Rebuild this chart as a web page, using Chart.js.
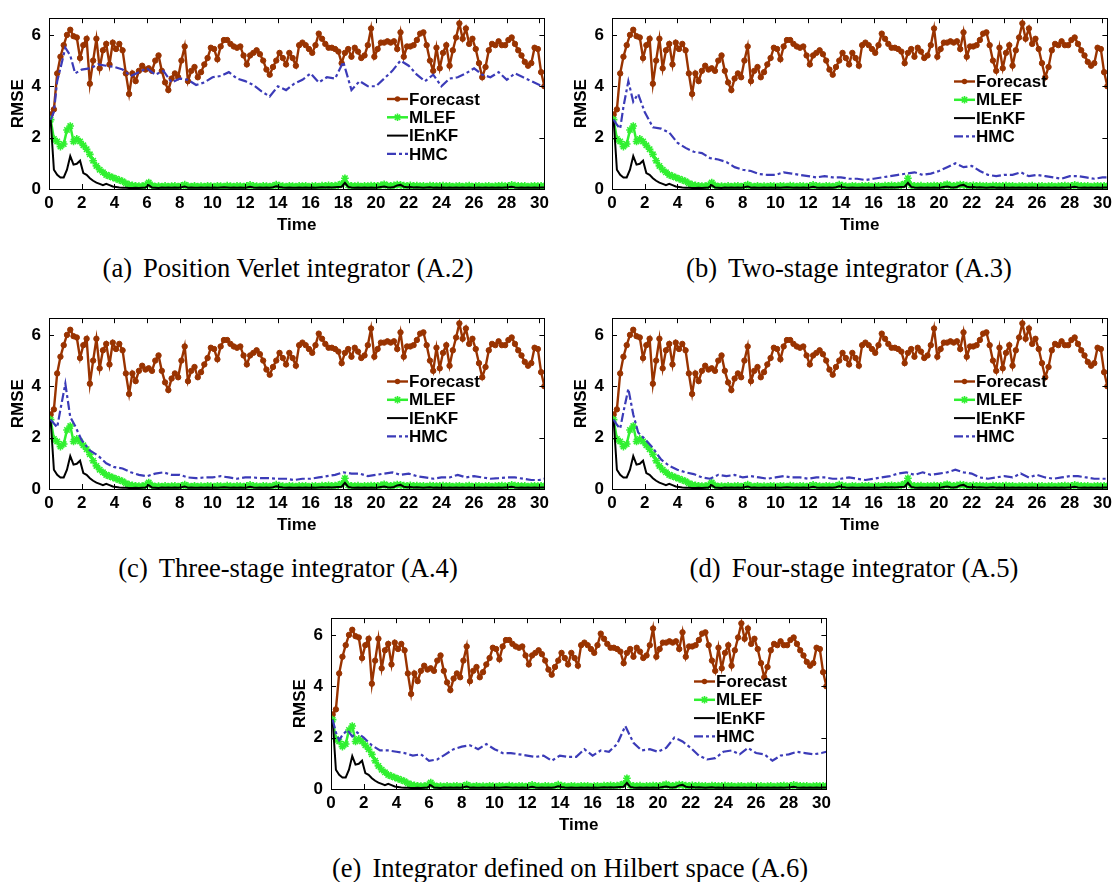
<!DOCTYPE html>
<html lang="en">
<head>
  <meta charset="UTF-8" />
  <title>RMSE of Forecast, MLEF, IEnKF and HMC</title>
  <script src="https://cdn.jsdelivr.net/npm/chart.js"></script>
  <style>
    body {
      margin: 0;
      background: #ffffff;
      width: 1117px;
      height: 882px;
      position: relative;
      overflow: hidden;
    }

    .panel {
      position: absolute;
    }

    .panel canvas {
      display: block;
    }

    .caption {
      position: absolute;
      font-family: 'Liberation Serif', 'Times New Roman', serif;
      font-size: 26.6px;
      line-height: 30px;
      color: #000;
      white-space: nowrap;
      transform: translateX(-50%);
    }

    .caption .tag {
      margin-right: 11px;
    }
  </style>
</head>
<body>
  <div class="panel" style="left:0px;top:0px"><canvas id="chartA" width="553" height="235"></canvas></div>
  <div class="panel" style="left:563px;top:0px"><canvas id="chartB" width="553" height="235"></canvas></div>
  <div class="panel" style="left:0px;top:300px"><canvas id="chartC" width="553" height="235"></canvas></div>
  <div class="panel" style="left:563px;top:300px"><canvas id="chartD" width="553" height="235"></canvas></div>
  <div class="panel" style="left:282px;top:600px"><canvas id="chartE" width="553" height="235"></canvas></div>

  <div class="caption" style="left:288px;top:253px"><span class="tag">(a)</span>Position Verlet integrator (A.2)</div>
  <div class="caption" style="left:849px;top:253px"><span class="tag">(b)</span>Two-stage integrator (A.3)</div>
  <div class="caption" style="left:288px;top:553px"><span class="tag">(c)</span>Three-stage integrator (A.4)</div>
  <div class="caption" style="left:854px;top:553px"><span class="tag">(d)</span>Four-stage integrator (A.5)</div>
  <div class="caption" style="left:570px;top:853px"><span class="tag">(e)</span>Integrator defined on Hilbert space (A.6)</div>

  <script>
    // time grid shared by forecast, MLEF and IEnKF
    const TIME = [
      0.1, 0.3, 0.5, 0.7, 0.9, 1.1, 1.3, 1.5, 1.7, 1.9,
      2.1, 2.3, 2.5, 2.7, 2.9, 3.1, 3.3, 3.5, 3.7, 3.9,
      4.1, 4.3, 4.5, 4.7, 4.9, 5.1, 5.3, 5.5, 5.7, 5.9,
      6.1, 6.3, 6.5, 6.7, 6.9, 7.1, 7.3, 7.5, 7.7, 7.9,
      8.1, 8.3, 8.5, 8.7, 8.9, 9.1, 9.3, 9.5, 9.7, 9.9,
      10.1, 10.3, 10.5, 10.7, 10.9, 11.1, 11.3, 11.5, 11.7, 11.9,
      12.1, 12.3, 12.5, 12.7, 12.9, 13.1, 13.3, 13.5, 13.7, 13.9,
      14.1, 14.3, 14.5, 14.7, 14.9, 15.1, 15.3, 15.5, 15.7, 15.9,
      16.1, 16.3, 16.5, 16.7, 16.9, 17.1, 17.3, 17.5, 17.7, 17.9,
      18.1, 18.3, 18.5, 18.7, 18.9, 19.1, 19.3, 19.5, 19.7, 19.9,
      20.1, 20.3, 20.5, 20.7, 20.9, 21.1, 21.3, 21.5, 21.7, 21.9,
      22.1, 22.3, 22.5, 22.7, 22.9, 23.1, 23.3, 23.5, 23.7, 23.9,
      24.1, 24.3, 24.5, 24.7, 24.9, 25.1, 25.3, 25.5, 25.7, 25.9,
      26.1, 26.3, 26.5, 26.7, 26.9, 27.1, 27.3, 27.5, 27.7, 27.9,
      28.1, 28.3, 28.5, 28.7, 28.9, 29.1, 29.3, 29.5, 29.7, 29.9,
      30.1, 30.3
    ];

    const FORECAST = [
      2.9, 3.1, 4.5, 5.15, 5.6, 6.0, 6.2, 5.95, 5.9, 5.1,
      5.6, 5.85, 4.1, 5.0, 5.85, 4.7, 5.4, 5.65, 4.85, 5.7,
      5.45, 5.65, 5.4, 4.5, 3.7, 4.5, 4.2, 4.6, 4.8, 4.65,
      4.7, 4.6, 5.0, 5.2, 4.6, 4.15, 3.85, 4.3, 4.5, 4.35,
      5.0, 5.55, 4.2, 4.6, 4.75, 4.35, 4.55, 4.85, 5.1, 5.5,
      5.45, 5.05, 5.55, 5.8, 5.8, 5.65, 5.55, 5.5, 5.55, 5.2,
      4.85, 5.2, 5.3, 5.4, 5.25, 5.0, 4.65, 4.45, 4.75, 5.0,
      5.3, 5.1, 4.85, 5.3, 5.1, 4.8, 5.6, 5.7, 5.6, 5.45,
      5.3, 5.6, 6.05, 5.85, 5.65, 5.5, 5.5, 5.45, 5.35, 4.9,
      5.3, 5.45, 5.15, 5.5, 5.35, 5.1, 5.2, 5.6, 6.25, 5.15,
      5.45, 5.7, 5.7, 5.75, 5.7, 5.75, 5.45, 6.1, 5.15, 5.55,
      5.55, 5.6, 5.8, 6.05, 6.1, 5.6, 5.0, 4.6, 5.5, 4.7,
      5.3, 5.6, 4.8, 5.4, 5.9, 6.45, 5.85, 6.25, 5.65, 5.85,
      5.45, 4.9, 4.35, 4.75, 5.4, 5.65, 5.6, 5.75, 5.6, 5.6,
      5.8, 5.9, 5.65, 5.4, 5.2, 4.95, 4.8, 4.9, 5.5, 5.45,
      4.55, 4.0
    ];

    const MLEF = [
      2.7, 1.95, 1.85, 1.65, 1.75, 2.3, 2.45, 1.85, 1.95, 1.85,
      1.7, 1.55, 1.35, 1.1, 0.9, 0.75, 0.65, 0.55, 0.5, 0.45,
      0.4, 0.35, 0.3, 0.22, 0.17, 0.14, 0.12, 0.11, 0.11, 0.15,
      0.25, 0.14, 0.1, 0.11, 0.1, 0.12, 0.1, 0.11, 0.12, 0.1,
      0.12, 0.17, 0.11, 0.1, 0.12, 0.1, 0.11, 0.1, 0.12, 0.11,
      0.1, 0.12, 0.11, 0.1, 0.13, 0.11, 0.1, 0.12, 0.11, 0.1,
      0.12, 0.16, 0.12, 0.11, 0.1, 0.12, 0.11, 0.1, 0.12, 0.17,
      0.13, 0.11, 0.1, 0.12, 0.11, 0.1, 0.12, 0.11, 0.12, 0.1,
      0.11, 0.12, 0.1, 0.13, 0.12, 0.14, 0.12, 0.13, 0.15, 0.2,
      0.42, 0.15, 0.12, 0.11, 0.13, 0.1, 0.12, 0.11, 0.13, 0.12,
      0.12, 0.14, 0.18, 0.13, 0.12, 0.14, 0.17, 0.16, 0.13, 0.12,
      0.14, 0.12, 0.13, 0.11, 0.12, 0.1, 0.13, 0.12, 0.11, 0.12,
      0.13, 0.11, 0.12, 0.1, 0.11, 0.12, 0.1, 0.11, 0.13, 0.1,
      0.11, 0.12, 0.1, 0.11, 0.12, 0.1, 0.11, 0.12, 0.13, 0.11,
      0.12, 0.16, 0.13, 0.12, 0.11, 0.12, 0.1, 0.11, 0.12, 0.11,
      0.12, 0.11
    ];

    const IENKF = [
      2.7, 0.75, 0.55, 0.45, 0.45, 0.75, 1.28, 0.95, 0.98, 1.1,
      0.62, 0.55, 0.42, 0.32, 0.25, 0.2, 0.15, 0.2, 0.15, 0.1,
      0.08, 0.06, 0.05, 0.05, 0.04, 0.04, 0.05, 0.04, 0.05, 0.06,
      0.15, 0.06, 0.05, 0.04, 0.06, 0.05, 0.06, 0.05, 0.06, 0.05,
      0.07, 0.1, 0.05, 0.06, 0.05, 0.05, 0.06, 0.05, 0.06, 0.05,
      0.06, 0.05, 0.06, 0.07, 0.06, 0.05, 0.06, 0.05, 0.06, 0.05,
      0.06, 0.09, 0.06, 0.05, 0.06, 0.05, 0.06, 0.05, 0.07, 0.11,
      0.08, 0.06, 0.05, 0.06, 0.05, 0.05, 0.06, 0.05, 0.06, 0.05,
      0.06, 0.05, 0.06, 0.07, 0.06, 0.07, 0.06, 0.07, 0.08, 0.09,
      0.24, 0.08, 0.06, 0.05, 0.06, 0.05, 0.06, 0.05, 0.06, 0.05,
      0.06, 0.08, 0.1, 0.07, 0.06, 0.08, 0.14, 0.16, 0.09, 0.07,
      0.08, 0.06, 0.07, 0.06, 0.05, 0.06, 0.07, 0.05, 0.06, 0.05,
      0.06, 0.05, 0.06, 0.05, 0.06, 0.05, 0.06, 0.05, 0.06, 0.05,
      0.05, 0.06, 0.05, 0.06, 0.05, 0.06, 0.05, 0.06, 0.05, 0.06,
      0.07, 0.09, 0.06, 0.05, 0.06, 0.05, 0.06, 0.05, 0.06, 0.05,
      0.06, 0.06
    ];

    // HMC runs are stored on a coarser grid
    const HMC_TIME = [
      0.1, 0.3, 0.5, 0.7, 1.0, 1.3, 1.6, 2.0,
      2.5, 3.0, 3.5, 4.0, 4.5, 5.0, 5.5, 6.0, 6.5, 7.0,
      7.5, 8.0, 8.5, 9.0, 9.5, 10.0, 10.5, 11.0, 11.5, 12.0,
      12.5, 13.0, 13.5, 14.0, 14.5, 15.0, 15.5, 16.0, 16.5, 17.0,
      17.5, 18.0, 18.5, 19.0, 19.5, 20.0, 20.5, 21.0, 21.5, 22.0,
      22.5, 23.0, 23.5, 24.0, 24.5, 25.0, 25.5, 26.0, 26.5, 27.0,
      27.5, 28.0, 28.5, 29.0, 29.5, 30.0, 30.3
    ];

    // position Verlet (A.2)
    const HMC_A = [
      2.7, 3.0, 4.2, 4.7, 5.5, 5.2, 4.5, 4.65,
      4.7, 4.85, 4.8, 4.75, 4.65, 4.4, 4.55, 4.7, 4.45, 4.6,
      4.15, 4.3, 4.25, 4.05, 4.15, 4.35, 4.4, 4.55, 4.3, 4.2,
      4.05, 3.8, 3.6, 4.0, 3.85, 4.1, 4.25, 4.5, 4.15, 4.35,
      4.3, 4.95, 3.85, 4.2, 4.0, 4.0, 4.3, 4.6, 5.0, 4.8,
      4.45, 4.2, 4.45, 4.0, 4.3, 4.35, 4.5, 4.7, 4.45, 4.35,
      4.55, 4.25, 4.5, 4.35, 4.2, 4.05, 4.0
    ];

    // two-stage (A.3)
    const HMC_B = [
      2.7, 2.5, 2.35, 3.2, 4.2, 3.4, 3.7, 3.0,
      2.4, 2.35, 2.2, 1.8, 1.6, 1.45, 1.4, 1.2, 1.15, 1.05,
      0.85, 0.75, 0.7, 0.58, 0.55, 0.55, 0.65, 0.6, 0.55, 0.5,
      0.45, 0.5, 0.45, 0.45, 0.4, 0.4, 0.35, 0.4, 0.45, 0.5,
      0.55, 0.6, 0.65, 0.55, 0.6, 0.7, 0.85, 1.0, 0.85, 0.9,
      0.7, 0.55, 0.5, 0.55, 0.55, 0.65, 0.5, 0.55, 0.5, 0.45,
      0.4, 0.5, 0.5, 0.45, 0.4, 0.45, 0.45
    ];

    // three-stage (A.4)
    const HMC_C = [
      2.7, 2.55, 2.4, 3.1, 4.1, 2.8, 2.45, 1.9,
      1.5, 1.3, 1.0, 0.85, 0.8, 0.65, 0.55, 0.5, 0.6, 0.65,
      0.55, 0.55, 0.45, 0.42, 0.45, 0.45, 0.5, 0.45, 0.4, 0.45,
      0.45, 0.42, 0.42, 0.4, 0.4, 0.35, 0.4, 0.4, 0.45, 0.5,
      0.55, 0.65, 0.6, 0.6, 0.5, 0.55, 0.6, 0.65, 0.55, 0.6,
      0.5, 0.45, 0.4, 0.45, 0.45, 0.55, 0.45, 0.5, 0.45, 0.4,
      0.42, 0.45, 0.45, 0.4, 0.35, 0.35, 0.4
    ];

    // four-stage (A.5)
    const HMC_D = [
      2.7, 2.5, 2.35, 3.0, 3.9, 2.9, 2.2, 1.95,
      1.6, 1.15, 0.9, 0.75, 0.65, 0.58, 0.45, 0.4, 0.55, 0.5,
      0.55, 0.45, 0.5, 0.45, 0.4, 0.45, 0.5, 0.45, 0.45, 0.4,
      0.45, 0.45, 0.4, 0.4, 0.45, 0.4, 0.35, 0.4, 0.45, 0.5,
      0.6, 0.65, 0.55, 0.65, 0.55, 0.6, 0.65, 0.75, 0.65, 0.6,
      0.45, 0.4, 0.45, 0.5, 0.45, 0.6, 0.45, 0.55, 0.45, 0.4,
      0.45, 0.5, 0.5, 0.45, 0.4, 0.4, 0.4
    ];

    // Hilbert space integrator (A.6)
    const HMC_E = [
      2.7, 2.2, 1.9, 2.1, 2.3, 2.05, 2.2, 2.0,
      1.7, 1.5, 1.5, 1.45, 1.4, 1.3, 1.35, 1.1, 1.15, 1.35,
      1.55, 1.65, 1.7, 1.55, 1.75, 1.55, 1.4, 1.4, 1.35, 1.3,
      1.25, 1.3, 1.1, 1.3, 1.25, 1.25, 1.55, 1.3, 1.5, 1.45,
      1.75, 2.45, 1.8, 1.5, 1.55, 1.45, 1.6, 2.0, 1.85, 1.6,
      1.3, 1.15, 1.2, 1.45, 1.5, 1.35, 1.6, 1.4, 1.35, 1.1,
      1.3, 1.35, 1.45, 1.4, 1.35, 1.4, 1.45
    ];

    const X_TICKS = [0, 2, 4, 6, 8, 10, 12, 14, 16, 18, 20, 22, 24, 26, 28, 30];
    const Y_TICKS = [0, 2, 4, 6];

    const FONT = '"Liberation Sans", Arial, Helvetica, sans-serif';
    const BROWN = '#993300';
    const GREEN = '#30f030';
    const BLUE = '#3b3bb8';

    function toPoints(xs, ys) {
      return xs.map((x, i) => ({ x: x, y: ys[i] }));
    }

    function drawMarker(ctx, style, x, y, r, color) {
      ctx.save();
      ctx.strokeStyle = color;
      ctx.fillStyle = color;
      if (style === 'circle') {
        ctx.beginPath();
        ctx.arc(x, y, r, 0, Math.PI * 2);
        ctx.fill();
      } else {
        const d = r * Math.SQRT1_2;
        ctx.lineWidth = 1.6;
        ctx.beginPath();
        ctx.moveTo(x - r, y); ctx.lineTo(x + r, y);
        ctx.moveTo(x, y - r); ctx.lineTo(x, y + r);
        ctx.moveTo(x - d, y - d); ctx.lineTo(x + d, y + d);
        ctx.moveTo(x - d, y + d); ctx.lineTo(x + d, y - d);
        ctx.stroke();
      }
      ctx.restore();
    }

    // axes box with short inward ticks on all four sides
    const boxAxes = {
      id: 'boxAxes',
      afterDatasetsDraw(chart) {
        const { ctx, chartArea: a, scales } = chart;
        const len = 5;
        ctx.save();
        ctx.strokeStyle = '#000';
        ctx.lineWidth = 1;
        ctx.strokeRect(Math.round(a.left) + 0.5, Math.round(a.top) + 0.5,
          Math.round(a.right - a.left), Math.round(a.bottom - a.top));
        ctx.beginPath();
        X_TICKS.forEach(v => {
          const px = Math.round(scales.x.getPixelForValue(v)) + 0.5;
          if (px < a.left || px > a.right) return;
          ctx.moveTo(px, a.bottom); ctx.lineTo(px, a.bottom - len);
          ctx.moveTo(px, a.top); ctx.lineTo(px, a.top + len);
        });
        Y_TICKS.forEach(v => {
          const py = Math.round(scales.y.getPixelForValue(v)) + 0.5;
          ctx.moveTo(a.left, py); ctx.lineTo(a.left + len, py);
          ctx.moveTo(a.right, py); ctx.lineTo(a.right - len, py);
        });
        ctx.stroke();
        ctx.restore();
      }
    };

    // legend drawn inside the plot area, no frame
    const insetLegend = {
      id: 'insetLegend',
      afterDraw(chart, args, opts) {
        const { ctx, chartArea } = chart;
        const x0 = chartArea.left + opts.x;
        ctx.save();
        ctx.font = 'bold 17px ' + FONT;
        ctx.textBaseline = 'middle';
        chart.data.datasets.forEach((ds, i) => {
          const y = opts.y + i * opts.rowGap;
          ctx.strokeStyle = ds.borderColor;
          ctx.lineWidth = ds.borderWidth;
          ctx.setLineDash(ds.borderDash || []);
          ctx.beginPath();
          ctx.moveTo(x0, y);
          ctx.lineTo(x0 + 21, y);
          ctx.stroke();
          ctx.setLineDash([]);
          if (ds.pointRadius > 0) {
            drawMarker(ctx, ds.pointStyle, x0 + 10.5, y, ds.pointRadius, ds.borderColor);
          }
          ctx.fillStyle = '#000';
          ctx.fillText(ds.label, x0 + 22, y + 1);
        });
        ctx.restore();
      }
    };

    function makeChart(id, hmc, legendPos) {
      const ctx = document.getElementById(id).getContext('2d');
      return new Chart(ctx, {
        type: 'line',
        data: {
          datasets: [
            {
              label: 'Forecast',
              data: toPoints(TIME, FORECAST),
              borderColor: BROWN,
              backgroundColor: BROWN,
              borderWidth: 2.4,
              pointStyle: 'circle',
              pointRadius: 2.7,
              pointBorderWidth: 1,
              pointBackgroundColor: BROWN,
              order: 4
            },
            {
              label: 'MLEF',
              data: toPoints(TIME, MLEF),
              borderColor: GREEN,
              backgroundColor: GREEN,
              borderWidth: 2.5,
              pointStyle: 'star',
              pointRadius: 3.8,
              pointBorderWidth: 1.6,
              order: 3
            },
            {
              label: 'IEnKF',
              data: toPoints(TIME, IENKF),
              borderColor: '#000000',
              borderWidth: 2,
              pointRadius: 0,
              order: 2
            },
            {
              label: 'HMC',
              data: toPoints(HMC_TIME, hmc),
              borderColor: BLUE,
              borderWidth: 2.2,
              borderDash: [9, 3, 3, 3],
              pointRadius: 0,
              order: 1
            }
          ]
        },
        options: {
          responsive: false,
          animation: false,
          layout: { padding: { top: 10, right: 7, left: 0, bottom: 0 } },
          elements: { line: { tension: 0 } },
          scales: {
            x: {
              type: 'linear',
              min: 0,
              max: 30.3,
              afterBuildTicks: s => { s.ticks = X_TICKS.map(v => ({ value: v })); },
              afterFit: s => { s.height = 46; },
              grid: { display: false, drawTicks: false },
              border: { display: false },
              ticks: {
                autoSkip: false,
                maxRotation: 0,
                padding: 4,
                color: '#000',
                font: { family: FONT, size: 17, weight: 'bold' }
              },
              title: {
                display: true,
                text: 'Time',
                color: '#000',
                padding: { top: 0, bottom: 0 },
                font: { family: FONT, size: 17, weight: 'bold', lineHeight: 1.1 }
              }
            },
            y: {
              min: 0,
              max: 6.65,
              afterBuildTicks: s => { s.ticks = Y_TICKS.map(v => ({ value: v })); },
              afterFit: s => { s.width = 49; },
              grid: { display: false, drawTicks: false },
              border: { display: false },
              ticks: {
                padding: 8,
                color: '#000',
                font: { family: FONT, size: 17, weight: 'bold' }
              },
              title: {
                display: true,
                text: 'RMSE',
                color: '#000',
                padding: { top: 9, bottom: 0 },
                font: { family: FONT, size: 17, weight: 'bold', lineHeight: 1.1 }
              }
            }
          },
          plugins: {
            legend: { display: false },
            tooltip: { enabled: false },
            insetLegend: legendPos
          }
        },
        plugins: [boxAxes, insetLegend]
      });
    }

    makeChart('chartA', HMC_A, { x: 338, y: 99, rowGap: 18.3 });
    makeChart('chartB', HMC_B, { x: 342, y: 81.5, rowGap: 18.3 });
    makeChart('chartC', HMC_C, { x: 338, y: 81.5, rowGap: 18.3 });
    makeChart('chartD', HMC_D, { x: 342, y: 81.5, rowGap: 18.3 });
    makeChart('chartE', HMC_E, { x: 363, y: 81.5, rowGap: 18.3 });
  </script>
</body>
</html>
